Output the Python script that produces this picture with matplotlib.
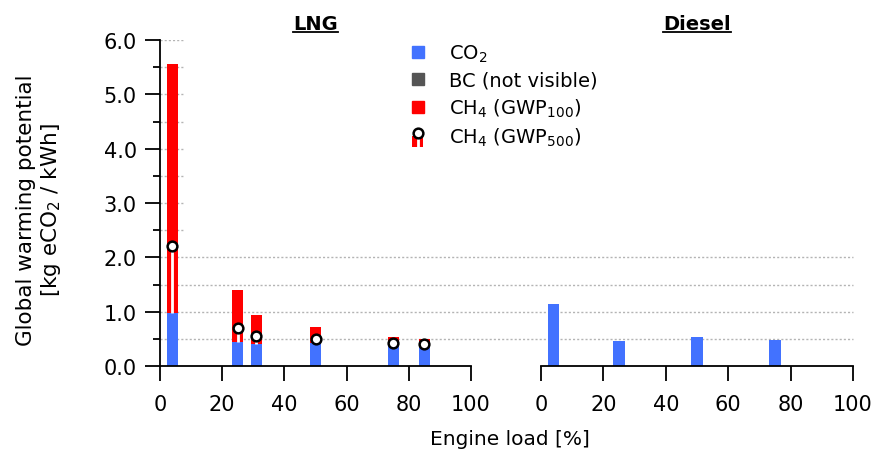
import matplotlib
matplotlib.use("Agg")
import matplotlib.pyplot as plt
import matplotlib.transforms as mtransforms
from matplotlib.legend_handler import HandlerBase
from matplotlib.lines import Line2D
from matplotlib.patches import Rectangle


CO2_COLOR = "#4272ff"
BC_COLOR = "#555555"
CH4_COLOR = "#ff0000"
GRID_COLOR = "#b4b4b4"

# LNG engine, values in kg eCO2 / kWh
lng_load = [4, 25, 31, 50, 75, 85]
lng_co2 = [0.98, 0.44, 0.41, 0.43, 0.37, 0.39]
lng_ch4_100 = [4.57, 0.96, 0.53, 0.29, 0.16, 0.11]
lng_ch4_500_total = [2.21, 0.70, 0.56, 0.50, 0.42, 0.41]

# Diesel engine
diesel_load = [4, 25, 50, 75]
diesel_co2 = [1.15, 0.46, 0.53, 0.48]

x_ticks = [0, 20, 40, 60, 80, 100]
y_ticks = [0.0, 1.0, 2.0, 3.0, 4.0, 5.0, 6.0]
grid_long = [0.5, 1.0, 1.5, 2.0]
grid_short = [2.5, 3.0, 3.5, 4.0, 4.5, 5.0, 5.5, 6.0]

BAR_WIDTH = 3.6


class Gwp500Handler(HandlerBase):
    def create_artists(self, legend, orig_handle, xdescent, ydescent, width, height, fontsize, trans):
        cx = width / 2 - xdescent
        bar = Rectangle((cx - 4, -ydescent - 3), 8, height * 0.45 + 3, facecolor=CH4_COLOR,
                        edgecolor="none", transform=trans)
        line = Line2D([cx, cx], [-ydescent - 3, height * 0.6], color="white", lw=2, transform=trans)
        mk = Line2D([cx], [height * 0.72], marker="o", ms=7, mfc="white", mec="black", mew=1.8,
                    linestyle="none", transform=trans)
        return [bar, line, mk]


def underlined_title(fig, ax, label):
    txt = ax.text(0.5, 1.022, label, transform=ax.transAxes, ha="center", va="bottom",
                  fontsize=14, fontweight="bold")
    fig.canvas.draw()
    bb = txt.get_window_extent().transformed(fig.transFigure.inverted())
    y = bb.y0 + 0.003
    fig.add_artist(Line2D([bb.x0, bb.x1], [y, y], transform=fig.transFigure, color="black", lw=1.3))


plt.rcParams["font.family"] = ["DejaVu Sans"]
plt.rcParams["font.size"] = 14

fig = plt.figure(figsize=(8.75, 4.52), dpi=100)
ax1 = fig.add_axes([0.1829, 0.188, 0.3554, 0.7212])
ax2 = fig.add_axes([0.6183, 0.188, 0.3566, 0.7212])

for ax in (ax1, ax2):
    ax.set_xlim(0, 100)
    ax.set_ylim(0, 6)
    ax.set_xticks(x_ticks)
    ax.spines["top"].set_visible(False)
    ax.spines["right"].set_visible(False)
    ax.spines["bottom"].set_linewidth(1.3)
    ax.tick_params(axis="x", direction="out", length=10.8, width=1.3, pad=9, labelsize=15)
    ax.patch.set_visible(False)

ax1.spines["left"].set_linewidth(1.3)
ax1.set_yticks(y_ticks)
ax1.set_yticklabels([f"{v:.1f}" for v in y_ticks])
ax1.set_yticks([0.5, 1.5, 2.5, 3.5, 4.5, 5.5], minor=True)
ax1.tick_params(axis="y", which="major", direction="out", length=10.8, width=1.3, pad=6, labelsize=15)
ax1.tick_params(axis="y", which="minor", direction="out", length=5.4, width=1.3)
ax2.spines["left"].set_visible(False)
ax2.set_yticks([])

# dotted grid: low lines span both panels, upper ones only by the first bar
trans = mtransforms.blended_transform_factory(fig.transFigure, ax1.transData)
x_start = ax1.get_position().x0
x_end = ax2.get_position().x1
for y in grid_long:
    fig.add_artist(Line2D([x_start, x_end], [y, y], transform=trans, color=GRID_COLOR,
                          lw=1, linestyle=(0, (1.5, 1.5)), zorder=0))
ax1.hlines(grid_short, 0, 8, colors=GRID_COLOR, lw=1, linestyles=[(0, (1.5, 1.5))], zorder=0)

# LNG bars
ax1.bar(lng_load, lng_co2, width=BAR_WIDTH, color=CO2_COLOR, zorder=2)
ax1.bar(lng_load, lng_ch4_100, width=BAR_WIDTH, bottom=lng_co2, color=CH4_COLOR, zorder=2)
for x, base, top in zip(lng_load, lng_co2, lng_ch4_500_total):
    ax1.plot([x, x], [base, top], color="white", lw=2, zorder=3, solid_capstyle="butt")
ax1.plot(lng_load, lng_ch4_500_total, linestyle="none", marker="o", ms=7, mfc="white",
         mec="black", mew=1.8, zorder=4)

# Diesel bars
ax2.bar(diesel_load, diesel_co2, width=BAR_WIDTH, color=CO2_COLOR, zorder=2)

fig.text(0.045, 0.535, "Global warming potential\n[kg eCO$_2$ / kWh]", rotation=90,
         ha="center", va="center", fontsize=15.5, linespacing=1.2)
fig.text(0.583, 0.027, "Engine load [%]", ha="center", va="center", fontsize=14.5)

handles = [
    Line2D([], [], marker="s", ms=8, color=CO2_COLOR, linestyle="none"),
    Line2D([], [], marker="s", ms=8, color=BC_COLOR, linestyle="none"),
    Line2D([], [], marker="s", ms=8, color=CH4_COLOR, linestyle="none"),
    Rectangle((0, 0), 1, 1),
]
labels = ["CO$_2$", "BC (not visible)", "CH$_4$ (GWP$_{100}$)", "CH$_4$ (GWP$_{500}$)"]
fig.legend(handles, labels, loc="upper left", bbox_to_anchor=(0.455, 0.9255), frameon=False,
           handlelength=1.0, handletextpad=1.1, labelspacing=0.35, borderpad=0, fontsize=14,
           handler_map={Rectangle: Gwp500Handler()})

underlined_title(fig, ax1, "LNG")
underlined_title(fig, ax2, "Diesel")

fig.savefig("out.png", dpi=100)
